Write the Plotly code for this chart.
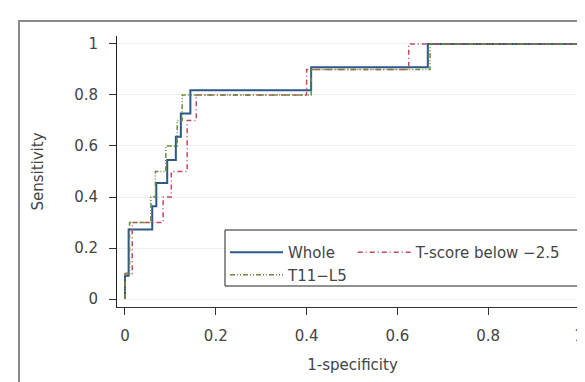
import plotly.graph_objects as go

# ROC step points (false positive rate, sensitivity)
whole_fpr = [0, 0, 0.008, 0.060, 0.069, 0.093, 0.112, 0.123, 0.144, 0.41, 0.667, 1]
whole_sens = [0, 0.091, 0.273, 0.364, 0.455, 0.545, 0.636, 0.727, 0.818, 0.909, 1, 1]

tscore_fpr = [0, 0, 0.016, 0.084, 0.102, 0.137, 0.157, 0.40, 0.625, 1]
tscore_sens = [0, 0.1, 0.3, 0.4, 0.5, 0.7, 0.8, 0.9, 1, 1]

t11l5_fpr = [0, 0, 0.010, 0.057, 0.067, 0.090, 0.115, 0.126, 0.41, 0.672, 1]
t11l5_sens = [0, 0.1, 0.3, 0.4, 0.5, 0.6, 0.7, 0.8, 0.9, 1, 1]

tick_vals = [0, 0.2, 0.4, 0.6, 0.8, 1]
tick_text = ["0", "0.2", "0.4", "0.6", "0.8", "1"]

FONT = "DejaVu Sans"
TXT = "#444444"
FS = 15

# plot area in pixels
L, R, T, B = 109, 580, 28, 299
W, H = 585, 382
PW, PH = R - L, B - T


def px(x):
    return (x - L) / PW


def py(y):
    return (B - y) / PH


fig = go.Figure()
fig.add_trace(go.Scatter(x=whole_fpr, y=whole_sens, mode="lines", line_shape="hv",
                         name="Whole", legendgroup="a",
                         line=dict(color="#2d5889", width=2)))
fig.add_trace(go.Scatter(x=tscore_fpr, y=tscore_sens, mode="lines", line_shape="hv",
                         name="T-score below \u22122.5", legendgroup="b",
                         line=dict(color="#c04a60", width=1.5, dash="5px,3px,1px,3px")))
fig.add_trace(go.Scatter(x=t11l5_fpr, y=t11l5_sens, mode="lines", line_shape="hv",
                         name="T11\u2212L5", legendgroup="a",
                         line=dict(color="#6a8c3a", width=1.5, dash="5px,2px,1px,2px,1px,2px")))

fig.update_layout(
    width=W, height=H,
    margin=dict(l=L, r=W - R, t=T, b=H - B),
    paper_bgcolor="white", plot_bgcolor="white",
    font=dict(family=FONT, size=FS, color=TXT),
    showlegend=True,
    legend=dict(
        x=px(217), y=py(228), xanchor="left", yanchor="top",
        orientation="h", traceorder="grouped", tracegroupgap=0,
        bgcolor="rgba(0,0,0,0)", borderwidth=0, itemwidth=53,
        font=dict(family=FONT, size=FS, color=TXT),
    ),
    xaxis=dict(
        range=[-0.0176, 1.0198], tickvals=tick_vals, ticktext=tick_text,
        showgrid=False, zeroline=False, showline=True, linecolor="#333333", linewidth=1,
        ticks="outside", ticklen=7, tickcolor="#333333", ticklabelstandoff=8,
        tickfont=dict(family=FONT, size=FS, color=TXT),
        title=dict(text="1-specificity", standoff=15, font=dict(family=FONT, size=FS, color=TXT)),
    ),
    yaxis=dict(
        range=[-0.031, 1.031], tickvals=tick_vals, ticktext=tick_text,
        showgrid=True, gridcolor="#e9f1f1", gridwidth=1, zeroline=False,
        showline=True, linecolor="#222222", linewidth=1,
        ticks="outside", ticklen=7, tickcolor="#333333", ticklabelstandoff=8,
        tickfont=dict(family=FONT, size=FS, color=TXT),
        title=dict(text="Sensitivity", standoff=26, font=dict(family=FONT, size=FS, color=TXT)),
    ),
    shapes=[
        # outer frame of the figure panel
        dict(type="rect", xref="paper", yref="paper",
             x0=px(11), x1=px(600), y0=py(400), y1=py(13),
             line=dict(color="#8a8a8a", width=2), layer="below"),
        # legend box
        dict(type="rect", xref="paper", yref="paper",
             x0=px(217), x1=px(580), y0=py(278), y1=py(222),
             line=dict(color="#222222", width=1), fillcolor="white", layer="above"),
    ],
)

fig.write_html("out.html")
